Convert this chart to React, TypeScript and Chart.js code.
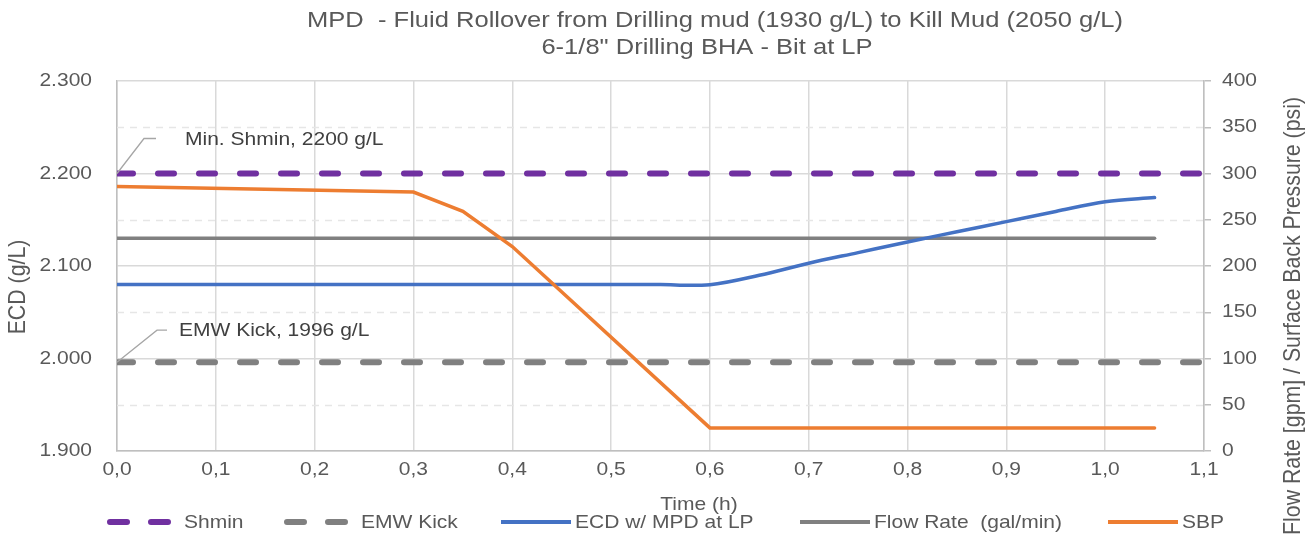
import React, { useEffect, useRef } from "react";
import { Chart, registerables } from "chart.js";

Chart.register(...registerables);

const FONT = "Arial, 'Liberation Sans', sans-serif";
const TEXT = "#595959";
const SX = 1.13; // horizontal text widening

// Titles
const titleLines = [
  "MPD  - Fluid Rollover from Drilling mud (1930 g/L) to Kill Mud (2050 g/L)",
  "6-1/8\" Drilling BHA - Bit at LP",
];
const xTitle = "Time (h)";
const yTitle = "ECD (g/L)";
const y1Title = "Flow Rate [gpm] / Surface Back Pressure (psi)";

// Tick labels
const xTickLabels = ["0,0", "0,1", "0,2", "0,3", "0,4", "0,5", "0,6", "0,7", "0,8", "0,9", "1,0", "1,1"];
const yTickLabels = ["1.900", "2.000", "2.100", "2.200", "2.300"];
const y1TickLabels = ["0", "50", "100", "150", "200", "250", "300", "350", "400"];

// ECD w/ MPD at LP (g/L)
const ecdTime = [0, 0.05, 0.1, 0.15, 0.2, 0.25, 0.3, 0.35, 0.4, 0.45, 0.5, 0.55, 0.58, 0.6, 0.65, 0.7, 0.75, 0.8, 0.85, 0.9, 0.95, 1.0, 1.05];
const ecdValues = [2.08, 2.08, 2.08, 2.08, 2.08, 2.08, 2.08, 2.08, 2.08, 2.08, 2.08, 2.08, 2.0791, 2.0798, 2.09, 2.103, 2.1145, 2.126, 2.137, 2.148, 2.159, 2.1695, 2.174];

// Flow rate (gal/min)
const flowTime = [0, 1.05];
const flowValues = [230, 230];

// Surface back pressure (psi)
const sbpTime = [0, 0.3, 0.35, 0.4, 0.6, 1.05];
const sbpValues = [286, 280, 259, 221, 25, 25];

// Reference levels (g/L x 1000 shown in labels)
const limitTime = [0, 1.1];
const shminLevel = 2.2;
const emwKickLevel = 1.996;

const pts = (xs: number[], ys: number[]) => xs.map((x, i) => ({ x, y: ys[i] }));

function drawText(
  ctx: CanvasRenderingContext2D,
  text: string,
  x: number,
  y: number,
  size: number,
  color: string,
  align: CanvasTextAlign = "left",
  rot = 0
) {
  ctx.save();
  ctx.translate(x, y);
  ctx.scale(SX, 1);
  if (rot) ctx.rotate(rot);
  ctx.font = `${size}px ${FONT}`;
  ctx.fillStyle = color;
  ctx.textAlign = align;
  ctx.textBaseline = "middle";
  ctx.fillText(text, 0, 0);
  ctx.restore();
}

const extras = {
  id: "extras",
  beforeDatasetsDraw(chart: any) {
    const ctx: CanvasRenderingContext2D = chart.ctx;
    const { left, right } = chart.chartArea;
    const y = chart.scales.y;
    ctx.save();
    ctx.strokeStyle = "#E6E6E6";
    ctx.lineWidth = 1.3;
    ctx.setLineDash([7, 6]);
    for (let i = 0; i < y.ticks.length - 1; i++) {
      const mid = (y.ticks[i].value + y.ticks[i + 1].value) / 2;
      const py = Math.round(y.getPixelForValue(mid)) + 0.5;
      ctx.beginPath();
      ctx.moveTo(left, py);
      ctx.lineTo(right, py);
      ctx.stroke();
    }
    ctx.restore();
  },
  afterDraw(chart: any) {
    const ctx: CanvasRenderingContext2D = chart.ctx;
    const { x, y, y1 } = chart.scales;
    const { left, right, bottom } = chart.chartArea;

    // Title
    drawText(ctx, titleLines[0], 715, 21, 22.6, TEXT, "center");
    drawText(ctx, titleLines[1], 707, 48, 22.6, TEXT, "center");

    // Tick labels
    x.ticks.forEach((t: any, i: number) => {
      drawText(ctx, xTickLabels[i] ?? "", x.getPixelForValue(t.value), bottom + 19, 18.6, TEXT, "center");
    });
    y.ticks.forEach((t: any, i: number) => {
      drawText(ctx, yTickLabels[i] ?? "", left - 25, y.getPixelForValue(t.value), 18.6, TEXT, "right");
    });
    y1.ticks.forEach((t: any, i: number) => {
      drawText(ctx, y1TickLabels[i] ?? "", right + 18, y1.getPixelForValue(t.value), 18.6, TEXT, "left");
    });

    // Axis titles
    drawText(ctx, xTitle, 699, 505, 18.6, TEXT, "center");
    drawText(ctx, yTitle, 18, 287, 21.3, TEXT, "center", -Math.PI / 2);
    drawText(ctx, y1Title, 1293, 97, 21.3, TEXT, "right", -Math.PI / 2);

    // Callouts on the reference levels
    const callouts = [
      { value: shminLevel, text: `Min. Shmin, ${Math.round(shminLevel * 1000)} g/L`, dx: 27, dy: -35, tail: 12, tx: 68, ty: -34 },
      { value: emwKickLevel, text: `EMW Kick, ${Math.round(emwKickLevel * 1000)} g/L`, dx: 40, dy: -32, tail: 10, tx: 62, ty: -31 },
    ];
    callouts.forEach((c) => {
      const ax = x.getPixelForValue(0);
      const ay = y.getPixelForValue(c.value);
      ctx.save();
      ctx.strokeStyle = "#A6A6A6";
      ctx.lineWidth = 1.3;
      ctx.beginPath();
      ctx.moveTo(ax, ay);
      ctx.lineTo(ax + c.dx, ay + c.dy);
      ctx.lineTo(ax + c.dx + c.tail, ay + c.dy);
      ctx.stroke();
      ctx.restore();
      drawText(ctx, c.text, ax + c.tx, ay + c.ty, 18.6, "#404040", "left");
    });

    // Legend
    const legendX = [107, 284, 501, 800, 1108];
    const ly = 522;
    chart.data.datasets.forEach((ds: any, i: number) => {
      const lx = legendX[i];
      ctx.save();
      ctx.strokeStyle = ds.borderColor;
      if (ds.borderDash && ds.borderDash.length) {
        ctx.lineWidth = 6;
        ctx.lineCap = "round";
        ctx.setLineDash([17, 24]);
        ctx.beginPath();
        ctx.moveTo(lx + 3, ly);
        ctx.lineTo(lx + 63, ly);
        ctx.stroke();
        ctx.restore();
        drawText(ctx, ds.label, lx + 77, ly + 1, 18.6, TEXT, "left");
      } else {
        ctx.lineWidth = 4;
        ctx.beginPath();
        ctx.moveTo(lx, ly);
        ctx.lineTo(lx + 70, ly);
        ctx.stroke();
        ctx.restore();
        drawText(ctx, ds.label, lx + 74, ly + 1, 18.6, TEXT, "left");
      }
    });
  },
};

export default function App() {
  const canvasRef = useRef<HTMLCanvasElement | null>(null);

  useEffect(() => {
    document.body.style.margin = "0";
    const canvas = canvasRef.current;
    if (!canvas) return;

    const gridColor = "#D9D9D9";
    const axisColor = "#BFBFBF";

    const chart = new Chart(canvas, {
      type: "line",
      data: {
        datasets: [
          {
            label: "Shmin",
            data: pts(limitTime, limitTime.map(() => shminLevel)),
            yAxisID: "y",
            borderColor: "#7030A0",
            borderWidth: 6,
            borderDash: [16, 25],
            borderCapStyle: "round",
            pointRadius: 0,
            order: 5,
          },
          {
            label: "EMW Kick",
            data: pts(limitTime, limitTime.map(() => emwKickLevel)),
            yAxisID: "y",
            borderColor: "#808080",
            borderWidth: 6,
            borderDash: [16, 25],
            borderCapStyle: "round",
            pointRadius: 0,
            order: 4,
          },
          {
            label: "ECD w/ MPD at LP",
            data: pts(ecdTime, ecdValues),
            yAxisID: "y",
            borderColor: "#4472C4",
            borderWidth: 3.5,
            cubicInterpolationMode: "monotone",
            borderCapStyle: "round",
            pointRadius: 0,
            order: 2,
          },
          {
            label: "Flow Rate  (gal/min)",
            data: pts(flowTime, flowValues),
            yAxisID: "y1",
            borderColor: "#808080",
            borderWidth: 3.5,
            borderCapStyle: "round",
            pointRadius: 0,
            order: 3,
          },
          {
            label: "SBP",
            data: pts(sbpTime, sbpValues),
            yAxisID: "y1",
            borderColor: "#ED7D31",
            borderWidth: 3.5,
            borderCapStyle: "round",
            pointRadius: 0,
            order: 1,
          },
        ],
      },
      options: {
        animation: false,
        responsive: false,
        events: [],
        layout: { padding: { top: 81, left: 0, right: 0, bottom: 0 } },
        plugins: {
          legend: { display: false },
          title: { display: false },
          tooltip: { enabled: false },
        },
        scales: {
          x: {
            type: "linear",
            position: "bottom",
            min: 0,
            max: 1.1,
            ticks: { stepSize: 0.1, display: false },
            grid: { color: gridColor, lineWidth: 1.5, drawTicks: false },
            border: { color: axisColor, width: 1.5 },
            afterFit: (s: any) => {
              s.height = 85;
            },
          },
          y: {
            type: "linear",
            position: "left",
            min: 1.9,
            max: 2.3,
            ticks: { stepSize: 0.1, display: false },
            grid: { color: gridColor, lineWidth: 1.5, drawTicks: false },
            border: { color: axisColor, width: 1.5 },
            afterFit: (s: any) => {
              s.width = 117;
            },
          },
          y1: {
            type: "linear",
            position: "right",
            min: 0,
            max: 400,
            ticks: { stepSize: 50, display: false },
            grid: { drawOnChartArea: false, drawTicks: true, tickLength: 7, color: axisColor, lineWidth: 1.5 },
            border: { color: axisColor, width: 1.5 },
            afterFit: (s: any) => {
              s.width = 109;
            },
          },
        },
      },
      plugins: [extras],
    } as any);

    return () => chart.destroy();
  }, []);

  return (
    <div style={{ width: 1313, height: 536, background: "#fff" }}>
      <canvas ref={canvasRef} width={1313} height={536} />
    </div>
  );
}
